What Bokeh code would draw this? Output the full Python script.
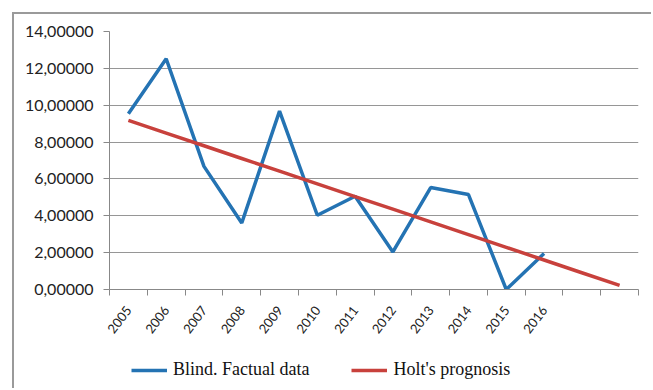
from bokeh.plotting import figure
from bokeh.models import Range1d, FixedTicker, Legend, LegendItem, Spacer
from bokeh.layouts import row, column
from bokeh.embed import file_html
from bokeh.resources import INLINE

years = ["2005", "2006", "2007", "2008", "2009", "2010", "2011", "2012",
         "2013", "2014", "2015", "2016", "", ""]
blind = [9.54, 12.52, 6.68, 3.61, 9.68, 4.03, 5.06, 2.04, 5.53, 5.15, 0.00, 1.95]
holt = [9.18, 8.49, 7.80, 7.11, 6.42, 5.73, 5.04, 4.36, 3.67, 2.98, 2.29, 1.60, 0.91, 0.22]
y_ticks = [0, 2, 4, 6, 8, 10, 12, 14]
y_labels = ["0,00000", "2,00000", "4,00000", "6,00000", "8,00000",
            "10,00000", "12,00000", "14,00000"]

BLUE = "#2473b3"
RED = "#c8413c"
FRAME = "2px solid #9a9a9a"

n = len(years)
centers = [i + 0.5 for i in range(n)]
bounds = [float(i) for i in range(n + 1)]

p = figure(width=639, height=331, output_backend="svg", toolbar_location=None,
           x_range=Range1d(0, n), y_range=Range1d(0, 14),
           min_border_left=95, min_border_right=15, min_border_top=17,
           min_border_bottom=56)
p.outline_line_color = None
p.background_fill_color = "white"
p.border_fill_color = "white"

p.line(centers[:len(blind)], blind, line_color=BLUE, line_width=3.5)
p.line(centers[:len(holt)], holt, line_color=RED, line_width=3.5)

# x axis
xa = p.xaxis[0]
xa.ticker = FixedTicker(ticks=centers, minor_ticks=bounds)
xa.major_label_overrides = {c: y for c, y in zip(centers, years)}
xa.major_label_orientation = 0.92
xa.major_label_text_font = "Lato"
xa.major_label_text_font_size = "13px"
xa.major_label_text_color = "#222222"
xa.major_tick_out = 0
xa.major_tick_in = 0
xa.minor_tick_out = 6
xa.minor_tick_in = 0
xa.minor_tick_line_color = "#888888"
xa.axis_line_color = "#888888"
xa.major_label_standoff = 12

# y axis
ya = p.yaxis[0]
ya.ticker = FixedTicker(ticks=y_ticks)
ya.major_label_overrides = {t: l for t, l in zip(y_ticks, y_labels)}
ya.major_label_text_font = "Lato"
ya.major_label_text_font_size = "16px"
ya.major_label_text_color = "#222222"
ya.major_tick_out = 6
ya.major_tick_in = 0
ya.minor_tick_line_color = None
ya.major_tick_line_color = "#888888"
ya.axis_line_color = "#888888"
ya.major_label_standoff = 10

p.xgrid.grid_line_color = None
p.ygrid.grid_line_color = "#969696"
p.ygrid.grid_line_width = 1
p.styles = {"border-left": FRAME, "border-top": FRAME}

# legend strip (its lines sit outside its visible range; only the legend shows)
pl = figure(width=639, height=45, output_backend="svg", toolbar_location=None,
            x_axis_type=None, y_axis_type=None,
            x_range=Range1d(1000, 1001), y_range=Range1d(1000, 1001),
            min_border_left=0, min_border_right=0, min_border_top=0,
            min_border_bottom=0)
pl.grid.grid_line_color = None
pl.outline_line_color = None
l1 = pl.line(centers[:len(blind)], blind, line_color=BLUE, line_width=3.5)
l2 = pl.line(centers[:len(holt)], holt, line_color=RED, line_width=3.5)
legend = Legend(items=[LegendItem(label="Blind. Factual data", renderers=[l1]),
                       LegendItem(label="Holt's prognosis", renderers=[l2])],
                orientation="horizontal", location=(22, 8),
                label_text_font="Liberation Serif", label_text_font_size="18px",
                label_text_color="#111111",
                glyph_width=36, label_standoff=6, spacing=42,
                padding=0, margin=0, border_line_color=None,
                background_fill_alpha=0)
pl.add_layout(legend, "center")
pl.styles = {"border-left": FRAME}

layout = row(Spacer(width=12), column(Spacer(height=12), p, pl, spacing=0), spacing=0)

open("out.html", "w").write(file_html(layout, INLINE))
